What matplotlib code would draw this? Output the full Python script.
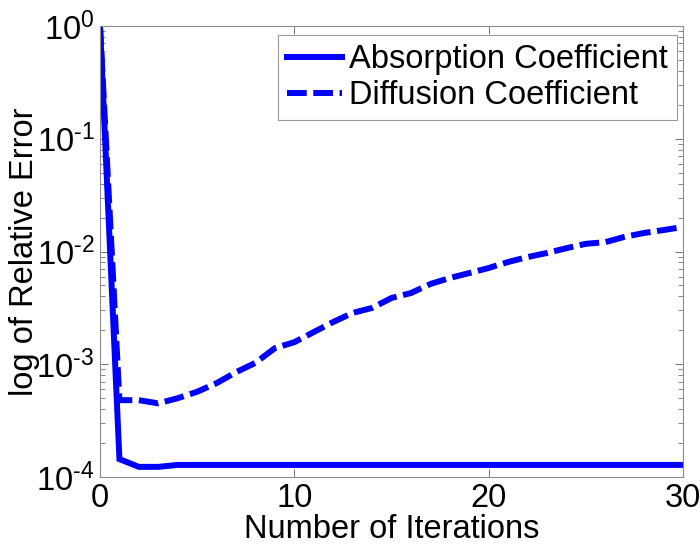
import numpy as np
import matplotlib
matplotlib.use("Agg")
import matplotlib.pyplot as plt
from matplotlib.ticker import FixedLocator, FuncFormatter, LogLocator, NullFormatter

plt.rcParams["font.family"] = ["Liberation Sans", "DejaVu Sans"]
plt.rcParams["mathtext.fontset"] = "custom"
plt.rcParams["mathtext.rm"] = "Liberation Sans"

# values
iterations = np.arange(0, 31)
absorption_error = [
    1.0, 1.44e-4, 1.23e-4, 1.23e-4, 1.28e-4, 1.28e-4, 1.28e-4, 1.28e-4,
    1.28e-4, 1.28e-4, 1.28e-4, 1.28e-4, 1.28e-4, 1.28e-4, 1.28e-4, 1.28e-4,
    1.28e-4, 1.28e-4, 1.28e-4, 1.28e-4, 1.28e-4, 1.28e-4, 1.28e-4, 1.28e-4,
    1.28e-4, 1.28e-4, 1.28e-4, 1.28e-4, 1.28e-4, 1.28e-4, 1.28e-4,
]
diffusion_error = [
    1.0, 4.8e-4, 4.8e-4, 4.5e-4, 5.0e-4, 5.7e-4, 6.8e-4, 8.5e-4,
    1.03e-3, 1.39e-3, 1.57e-3, 1.93e-3, 2.37e-3, 2.85e-3, 3.16e-3, 3.87e-3,
    4.28e-3, 5.15e-3, 5.82e-3, 6.44e-3, 7.14e-3, 8.07e-3, 8.93e-3, 9.7e-3,
    1.07e-2, 1.17e-2, 1.21e-2, 1.35e-2, 1.46e-2, 1.55e-2, 1.65e-2,
]
x_ticks = [0, 10, 20, 30]
y_ticks = [1e-4, 1e-3, 1e-2, 1e-1, 1e0]

FONT_SIZE = 23.5

fig = plt.figure(figsize=(7.0, 5.46), dpi=100)
ax = fig.add_axes([100 / 700, 69 / 546, 583 / 700, 451 / 546])

blue = "#0000ff"
ax.plot(iterations, absorption_error, color=blue, linewidth=4.3,
        solid_joinstyle="miter", label="Absorption Coefficient")
ax.plot(iterations, diffusion_error, color=blue, linewidth=4.3,
        dashes=(3.3, 1.1), label="Diffusion Coefficient")


def decade_label(v, pos):
    # hyphen instead of a math minus, as in the reference
    exp = int(round(np.log10(v)))
    if exp < 0:
        return r"$\mathregular{10^{\text{-}%d}}$" % (-exp)
    return r"$\mathregular{10^{%d}}$" % exp


ax.set_yscale("log")
ax.set_xlim(0, 30)
ax.set_ylim(1e-4, 1e0)
ax.xaxis.set_major_locator(FixedLocator(x_ticks))
ax.yaxis.set_major_locator(FixedLocator(y_ticks))
ax.yaxis.set_minor_locator(LogLocator(base=10, subs=np.arange(2, 10)))
ax.yaxis.set_minor_formatter(NullFormatter())
ax.yaxis.set_major_formatter(FuncFormatter(decade_label))

for side in ax.spines.values():
    side.set_color("0.55")
    side.set_linewidth(0.8)
ax.tick_params(which="both", direction="in", top=True, right=True,
               color="0.45", labelsize=FONT_SIZE, labelcolor="black")
ax.tick_params(which="major", length=6, width=0.7, pad=4)
ax.tick_params(which="minor", length=3.5, width=0.6)

ax.set_xlabel("Number of Iterations", fontsize=FONT_SIZE, labelpad=0.5)
ax.set_ylabel("log of Relative Error", fontsize=FONT_SIZE)
ax.yaxis.set_label_coords(-0.103, 0.5)

leg = ax.legend(loc="upper right", bbox_to_anchor=(0.9897, 0.980),
                borderaxespad=0, fontsize=FONT_SIZE, frameon=True,
                fancybox=False, handlelength=1.69, handletextpad=0.21,
                labelspacing=0.15, borderpad=0.28)
leg.get_frame().set_edgecolor("0.5")
leg.get_frame().set_linewidth(0.8)

fig.savefig("out.png", dpi=100)
